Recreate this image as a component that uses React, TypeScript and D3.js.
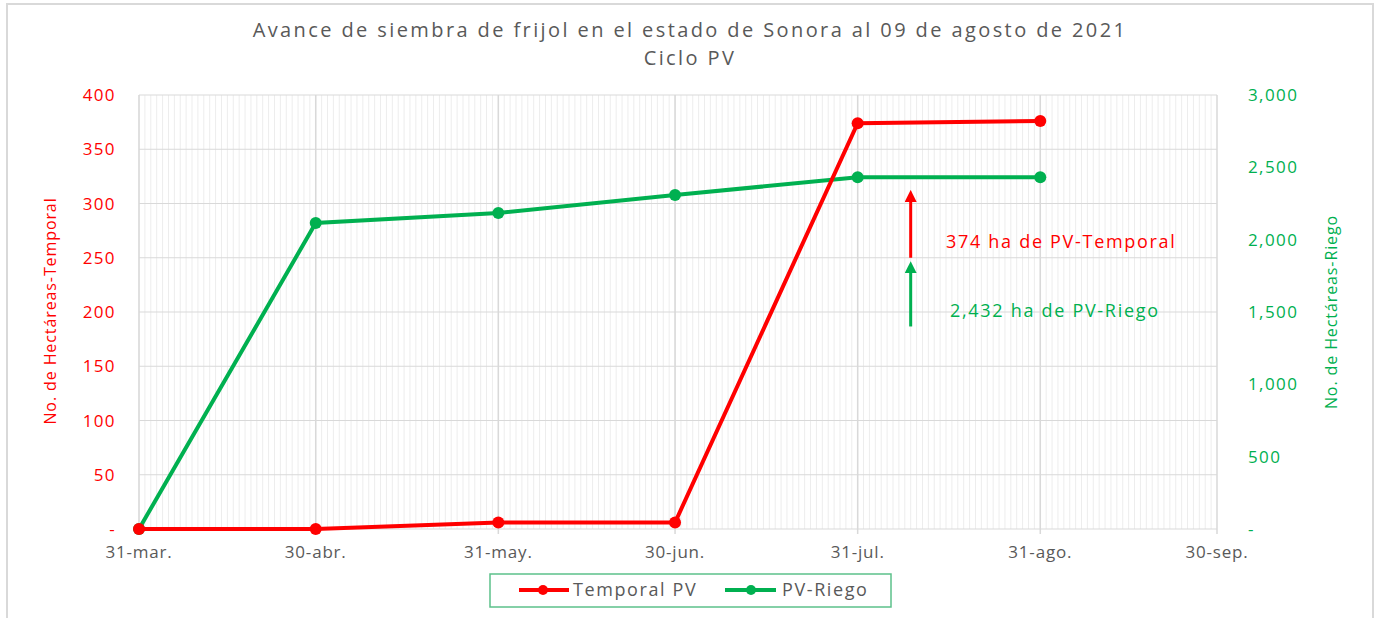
import * as d3 from "d3";

// --- data ---
const tickDates = ["2021-03-31", "2021-04-30", "2021-05-31", "2021-06-30", "2021-07-31", "2021-08-31", "2021-09-30"];
const tickLabels = ["31-mar.", "30-abr.", "31-may.", "30-jun.", "31-jul.", "31-ago.", "30-sep."];
const pointDates = ["2021-03-31", "2021-04-30", "2021-05-31", "2021-06-30", "2021-07-31", "2021-08-31"];
const temporal = [0, 0, 6, 6, 374, 376];
const riego = [0, 2115, 2184, 2308, 2432, 2432];
const leftTicks = [0, 50, 100, 150, 200, 250, 300, 350, 400];
const rightTicks = [0, 500, 1000, 1500, 2000, 2500, 3000];

const RED = "#ff0000";
const GREEN = "#00b050";
const GREY = "#595959";
const FONT = "'Open Sans', sans-serif";

const W = 1379;
const H = 618;
const plot = { left: 139, right: 1217, top: 95, bottom: 529 };

const parse = (s: string) => new Date(s + "T00:00:00Z");

export default function App() {
  const x = d3.scaleUtc()
    .domain([parse(tickDates[0]), parse(tickDates[tickDates.length - 1])])
    .range([plot.left, plot.right]);
  const yL = d3.scaleLinear().domain([0, 400]).range([plot.bottom, plot.top]);
  const yR = d3.scaleLinear().domain([0, 3000]).range([plot.bottom, plot.top]);

  const days = d3.utcDay.range(x.domain()[0], x.domain()[1]);
  const fmtR = (v: number) => (v === 0 ? "-" : d3.format(",")(v));
  const fmtL = (v: number) => (v === 0 ? "-" : String(v));

  const tempPts = pointDates.map((d, i) => ({ d: parse(d), v: temporal[i] }));
  const riegoPts = pointDates.map((d, i) => ({ d: parse(d), v: riego[i] }));
  const lineL = d3.line<{ d: Date; v: number }>().x((p) => x(p.d)).y((p) => yL(p.v));
  const lineR = d3.line<{ d: Date; v: number }>().x((p) => x(p.d)).y((p) => yR(p.v));

  // annotation arrows anchored to the data scale
  const arrowX = x(parse("2021-08-09"));

  return (
    <svg width={W} height={H} style={{ position: "absolute", left: 0, top: 0, background: "#fff" }}>
      <defs>
        <marker id="arrR" viewBox="0 0 10 10" refX="5" refY="5" markerWidth="4" markerHeight="4" orient="auto">
          <path d="M0,0 L10,5 L0,10 z" fill={RED} />
        </marker>
        <marker id="arrG" viewBox="0 0 10 10" refX="5" refY="5" markerWidth="4" markerHeight="4" orient="auto">
          <path d="M0,0 L10,5 L0,10 z" fill={GREEN} />
        </marker>
      </defs>
      <rect x={7} y={4} width={1366} height={700} fill="#fff" stroke="#d9d9d9" strokeWidth={2} />

      <text x={690} y={37} textAnchor="middle" fontFamily={FONT} fontSize={20} letterSpacing={2.4} fill={GREY}>
        Avance de siembra de frijol en el estado de Sonora al 09 de agosto de 2021
      </text>
      <text x={690} y={65} textAnchor="middle" fontFamily={FONT} fontSize={20} letterSpacing={2.4} fill={GREY}>
        Ciclo PV
      </text>

      {/* minor daily grid */}
      {days.map((d, i) => (
        <line key={"m" + i} x1={x(d)} x2={x(d)} y1={plot.top} y2={plot.bottom} stroke="#ededed" strokeWidth={1} />
      ))}
      {/* horizontal grid */}
      {leftTicks.map((t) => (
        <line key={"h" + t} x1={plot.left} x2={plot.right} y1={yL(t)} y2={yL(t)} stroke="#d9d9d9" strokeWidth={1} />
      ))}
      {/* major monthly grid */}
      {tickDates.map((d) => (
        <line key={"M" + d} x1={x(parse(d))} x2={x(parse(d))} y1={plot.top} y2={plot.bottom + 5} stroke="#d9d9d9" strokeWidth={1.5} />
      ))}

      {/* left axis */}
      {leftTicks.map((t) => (
        <text key={"l" + t} x={116} y={yL(t) + 6} textAnchor="end" fontFamily={FONT} fontSize={17} letterSpacing={1.4} fill={RED}>
          {fmtL(t)}
        </text>
      ))}
      <text transform={`translate(56,${(plot.top + plot.bottom) / 2 - 1}) rotate(-90)`} textAnchor="middle" fontFamily={FONT} fontSize={16} letterSpacing={0.9} fill={RED}>
        No. de Hectáreas-Temporal
      </text>

      {/* right axis */}
      {rightTicks.map((t) => (
        <text key={"r" + t} x={1248} y={yR(t) + 6} textAnchor="start" fontFamily={FONT} fontSize={17} letterSpacing={1.4} fill={GREEN}>
          {fmtR(t)}
        </text>
      ))}
      <text transform={`translate(1337,${(plot.top + plot.bottom) / 2}) rotate(-90)`} textAnchor="middle" fontFamily={FONT} fontSize={16} letterSpacing={0.9} fill={GREEN}>
        No. de Hectáreas-Riego
      </text>

      {/* x axis labels */}
      {tickDates.map((d, i) => (
        <text key={"x" + d} x={x(parse(d))} y={558} textAnchor="middle" fontFamily={FONT} fontSize={17} letterSpacing={0.8} fill={GREY}>
          {tickLabels[i]}
        </text>
      ))}

      {/* series */}
      <path d={lineR(riegoPts) ?? ""} fill="none" stroke={GREEN} strokeWidth={4} />
      {riegoPts.map((p, i) => (
        <circle key={"g" + i} cx={x(p.d)} cy={yR(p.v)} r={6} fill={GREEN} />
      ))}
      <path d={lineL(tempPts) ?? ""} fill="none" stroke={RED} strokeWidth={4} />
      {tempPts.map((p, i) => (
        <circle key={"t" + i} cx={x(p.d)} cy={yL(p.v)} r={6} fill={RED} />
      ))}

      {/* annotations */}
      <line x1={arrowX} x2={arrowX} y1={yL(250)} y2={yL(307)} stroke={RED} strokeWidth={3} markerEnd="url(#arrR)" />
      <line x1={arrowX} x2={arrowX} y1={yR(1400)} y2={yR(1810)} stroke={GREEN} strokeWidth={3} markerEnd="url(#arrG)" />
      <text x={946} y={248} fontFamily={FONT} fontSize={18} letterSpacing={1.7} fill={RED}>374 ha de PV-Temporal</text>
      <text x={950} y={317} fontFamily={FONT} fontSize={18} letterSpacing={1.7} fill={GREEN}>2,432 ha de PV-Riego</text>

      {/* legend */}
      <rect x={490} y={574} width={401} height={33} fill="#fff" stroke="#5cc18b" strokeWidth={1.5} />
      <line x1={519} x2={569} y1={590} y2={590} stroke={RED} strokeWidth={4} />
      <circle cx={543} cy={590} r={5} fill={RED} />
      <text x={573} y={596} fontFamily={FONT} fontSize={18} letterSpacing={1.6} fill={GREY}>Temporal PV</text>
      <line x1={725} x2={776} y1={590} y2={590} stroke={GREEN} strokeWidth={4} />
      <circle cx={751} cy={590} r={5} fill={GREEN} />
      <text x={782} y={596} fontFamily={FONT} fontSize={18} letterSpacing={1.6} fill={GREY}>PV-Riego</text>
    </svg>
  );
}
